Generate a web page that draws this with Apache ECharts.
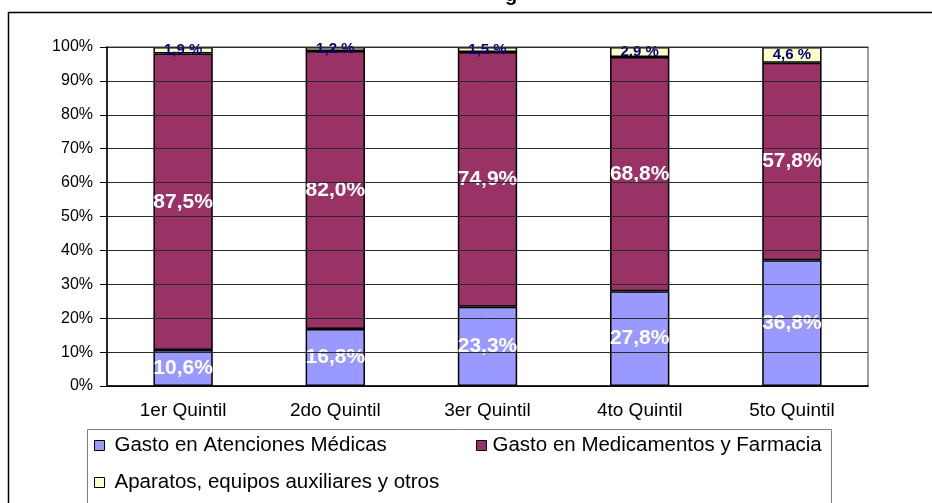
<!DOCTYPE html>
<html>
<head>
<meta charset="utf-8">
<script src="https://cdn.jsdelivr.net/npm/echarts@6/dist/echarts.min.js"></script>
<style>
  html, body { margin: 0; padding: 0; background: #fff; }
  #chart { width: 932px; height: 503px; }
</style>
</head>
<body>
<div id="chart"></div>
<script>
const categories = ["1er Quintil", "2do Quintil", "3er Quintil", "4to Quintil", "5to Quintil"];
const atenciones = [10.6, 16.8, 23.3, 27.8, 36.8];
const medicamentos = [87.5, 82.0, 74.9, 68.8, 57.8];
const aparatos = [1.9, 1.2, 1.5, 2.9, 4.6];
const yTicks = [0, 10, 20, 30, 40, 50, 60, 70, 80, 90, 100];

const names = [
  "Gasto en Atenciones Médicas",
  "Gasto en Medicamentos y Farmacia",
  "Aparatos, equipos auxiliares y otros"
];

// 100% stacked: scale each column to its total, keep raw values for labels
const totals = categories.map((_, i) => atenciones[i] + medicamentos[i] + aparatos[i]);
const share = arr => arr.map((v, i) => ({ value: v / totals[i] * 100, raw: v }));
const fmt = v => v.toFixed(1).replace(".", ",");

const font = "Liberation Sans, Arial, sans-serif";
const barBorder = { borderColor: "#000", borderWidth: 1.5 };

const chart = echarts.init(document.getElementById("chart"));

function legendAt(name, left, top, gap) {
  return {
    data: [name],
    left: left,
    top: top,
    padding: 0,
    itemWidth: 10,
    itemHeight: 10,
    icon: "rect",
    itemStyle: { borderColor: "#000", borderWidth: 1 },
    textStyle: { fontFamily: font, fontSize: 20.5, color: "#000", padding: [0, 0, 0, gap] },
    selectedMode: false
  };
}

function whiteLabel() {
  return {
    show: true,
    position: "inside",
    fontFamily: font,
    fontSize: 21,
    fontWeight: "bold",
    color: "#fff",
    textBorderWidth: 0,
    formatter: p => fmt(p.data.raw) + "%"
  };
}

chart.setOption({
  animation: false,
  backgroundColor: "#fff",
  graphic: [
    {
      type: "rect",
      shape: { x: 8.5, y: 12.5, width: 1000, height: 600 },
      style: { fill: null, stroke: "#000", lineWidth: 1.5 },
      z: 0
    },
    {
      type: "rect",
      shape: { x: 87.5, y: 429.5, width: 744, height: 120 },
      style: { fill: null, stroke: "#808080", lineWidth: 1 },
      z: 0
    },
    {
      type: "text",
      x: 505,
      y: -15,
      style: { text: "g", fontFamily: font, fontSize: 20, fontWeight: "bold", fill: "#000" }
    }
  ],
  legend: [
    legendAt(names[0], 94, 435, 5),
    legendAt(names[1], 476, 435, 1),
    legendAt(names[2], 94, 472, 5)
  ],
  grid: {
    left: 107,
    right: 64,
    top: 47,
    height: 339,
    show: true,
    borderColor: "#808080",
    borderWidth: 1.5,
    backgroundColor: "#fff"
  },
  xAxis: {
    type: "category",
    data: categories,
    axisLine: { lineStyle: { color: "#000", width: 1.5 } },
    axisTick: { length: 6, lineStyle: { color: "#000" } },
    axisLabel: { fontFamily: font, fontSize: 19, color: "#000", margin: 15 },
    z: 5
  },
  yAxis: {
    type: "value",
    min: 0,
    max: 100,
    interval: 10,
    axisLine: { show: true, lineStyle: { color: "#000", width: 1.5 } },
    axisTick: { show: true, length: 7, lineStyle: { color: "#000" } },
    axisLabel: {
      fontFamily: font,
      fontSize: 16,
      color: "#000",
      margin: 14,
      formatter: v => (yTicks.includes(v) ? v + "%" : "")
    },
    splitLine: { show: true, lineStyle: { color: "#2a2a2a", width: 1 } },
    z: 5
  },
  series: [
    {
      name: names[0],
      type: "bar",
      stack: "total",
      barWidth: "39%",
      data: share(atenciones),
      itemStyle: Object.assign({ color: "#9999FF" }, barBorder),
      label: whiteLabel(),
      z: 3
    },
    {
      name: names[1],
      type: "bar",
      stack: "total",
      data: share(medicamentos),
      itemStyle: Object.assign({ color: "#993366" }, barBorder),
      label: whiteLabel(),
      z: 3
    },
    {
      name: names[2],
      type: "bar",
      stack: "total",
      data: share(aparatos),
      itemStyle: Object.assign({ color: "#FFFFCC" }, barBorder),
      label: {
        show: true,
        position: "inside",
        fontFamily: font,
        fontSize: 15,
        fontWeight: "bold",
        color: "#000080",
        textBorderWidth: 0,
        formatter: p => fmt(p.data.raw) + " %"
      },
      z: 3
    }
  ]
});
</script>
</body>
</html>
